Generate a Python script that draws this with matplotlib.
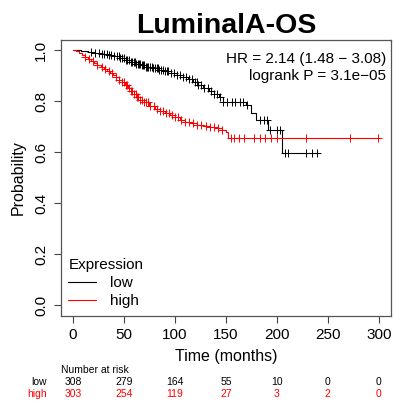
import numpy as np
import matplotlib
matplotlib.use("Agg")
import matplotlib.pyplot as plt
from matplotlib.transforms import blended_transform_factory

plt.rcParams['font.family'] = ['Liberation Sans', 'DejaVu Sans']

# Kaplan-Meier steps (time in months, survival after step)
low_times = [0, 8, 15, 22, 28, 34, 40, 46, 52, 57, 62, 67, 72, 78, 84, 90, 96, 102,
             108, 113, 118, 123, 128, 133, 138, 143, 147, 170, 175, 180, 191, 205]
low_surv = [1.0, 0.997, 0.993, 0.989, 0.984, 0.979, 0.975, 0.968, 0.96, 0.952, 0.945,
            0.94, 0.935, 0.93, 0.923, 0.916, 0.91, 0.902, 0.895, 0.885, 0.874, 0.862,
            0.85, 0.838, 0.826, 0.815, 0.798, 0.785, 0.752, 0.728, 0.685, 0.598]
low_end = 240
low_cens = [18, 22, 25, 28, 30, 33, 35, 37, 40, 43, 45, 46, 48, 50, 52, 53, 55, 57, 58,
            60, 61, 62, 64, 65, 66, 68, 69, 70, 72, 73, 74, 76, 77, 78, 80, 82, 83, 84,
            86, 88, 90, 92, 93, 96, 99, 102, 105, 108, 111, 114, 117, 120, 122, 123, 126,
            129, 132, 135, 138, 141, 144, 147, 151, 156, 159, 164, 167, 171, 183, 187,
            190, 193, 200, 203, 208, 211, 229, 234, 239]

high_times = [0, 3, 6, 9, 12, 15, 18, 21, 24, 27, 30, 33, 36, 39, 42, 45, 48, 51, 54,
              57, 60, 63, 66, 70, 75, 80, 85, 90, 95, 100, 105, 110, 116, 122, 128,
              134, 140, 146, 150, 152]
high_surv = [1.0, 0.995, 0.988, 0.981, 0.973, 0.965, 0.957, 0.949, 0.941, 0.933, 0.926,
             0.918, 0.91, 0.902, 0.893, 0.884, 0.873, 0.862, 0.851, 0.84, 0.828, 0.815,
             0.805, 0.795, 0.781, 0.771, 0.762, 0.754, 0.746, 0.737, 0.727, 0.72, 0.714,
             0.708, 0.703, 0.698, 0.694, 0.688, 0.68, 0.656]
high_end = 300
high_cens = [12, 16, 20, 24, 28, 31, 35, 38, 42, 45, 48, 50, 52, 53, 55, 57, 58, 60, 62,
             63, 64, 66, 68, 70, 72, 74, 76, 79, 82, 85, 88, 91, 94, 97, 100, 103, 106,
             110, 114, 118, 122, 126, 130, 134, 138, 142, 146, 155, 158, 163, 168, 178,
             183, 188, 194, 200, 229, 272, 299]

risk_times = [0, 50, 100, 150, 200, 250, 300]
risk_low = [308, 279, 164, 55, 10, 0, 0]
risk_high = [303, 254, 119, 27, 3, 2, 0]

fig = plt.figure(figsize=(3.94, 4.05), dpi=100)
ax = fig.add_axes([0.1543, 0.2205, 0.9924 - 0.1543, 0.9017 - 0.2205])


def km(times, surv, end, cens, color, label):
    t = list(times) + [end]
    s = list(surv) + [surv[-1]]
    ax.step(t, s, where='post', color=color, lw=0.8, label=label)
    idx = np.searchsorted(times, cens, side='right') - 1
    ax.plot(cens, np.array(surv)[idx], ls='none', marker='+', ms=5.5, mew=0.7, color=color)


km(low_times, low_surv, low_end, low_cens, 'black', 'low')
km(high_times, high_surv, high_end, high_cens, 'red', 'high')

ax.set_xlim(-12, 312)
ax.set_ylim(-0.04, 1.04)
ax.set_xticks(risk_times)
ax.set_yticks([0, 0.2, 0.4, 0.6, 0.8, 1.0])
ax.set_yticklabels(['0.0', '0.2', '0.4', '0.6', '0.8', '1.0'], rotation=90, va='center')
ax.tick_params(labelsize=11, length=5, width=0.8, color='#444444', pad=4)
for sp in ax.spines.values():
    sp.set_color('#555555')
    sp.set_linewidth(0.9)
ax.set_xlabel('Time (months)', fontsize=11.5, labelpad=5)
ax.set_ylabel('Probability', fontsize=11.5, labelpad=6)
ax.set_title('LuminalA-OS', fontsize=20.5, fontweight='bold', pad=5)

ax.text(0.985, 0.955, 'HR = 2.14 (1.48 \u2212 3.08)\nlogrank P = 3.1e\u221205',
        transform=ax.transAxes, ha='right', va='top', fontsize=11, linespacing=1.25)

leg = ax.legend(title='Expression', loc='lower left', frameon=False, fontsize=11,
                title_fontsize=11, handlelength=1.8, handletextpad=0.9,
                borderaxespad=0.2, borderpad=0.3, labelspacing=0.25)
leg._legend_box.align = 'left'

tr = blended_transform_factory(ax.transData, fig.transFigure)
fig.text(60.7 / 394, 1 - 370 / 405, 'Number at risk', fontsize=7.5, va='center')
fig.text(47 / 394, 1 - 382 / 405, 'low', fontsize=7.5, ha='right', va='center')
fig.text(47 / 394, 1 - 394 / 405, 'high', fontsize=7.5, ha='right', va='center', color='red')
for t, a, b in zip(risk_times, risk_low, risk_high):
    fig.text(t, 1 - 382 / 405, str(a), transform=tr, fontsize=7.5, ha='center', va='center')
    fig.text(t, 1 - 394 / 405, str(b), transform=tr, fontsize=7.5, ha='center', va='center',
             color='red')

fig.savefig('out.png', dpi=100)
